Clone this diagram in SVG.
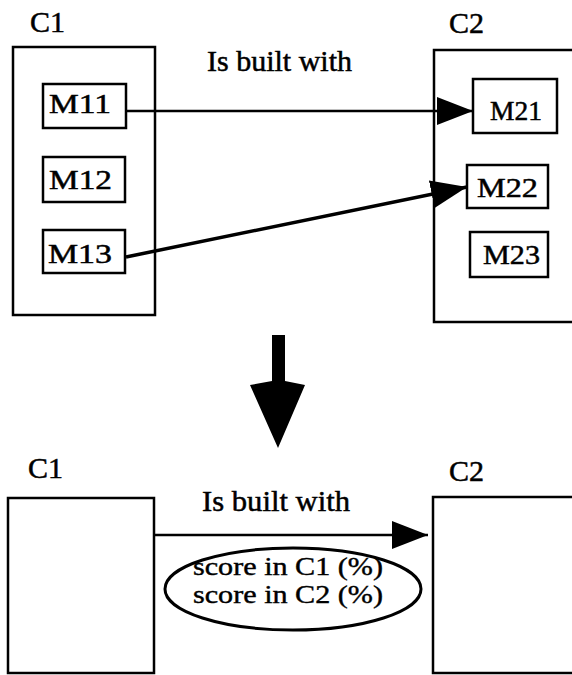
<svg xmlns="http://www.w3.org/2000/svg" width="572" height="675" viewBox="0 0 572 675">
<style>
  .box { fill: none; stroke: #000; stroke-width: 2.5; }
  .lbl { font-family: "Liberation Serif", "Times New Roman", serif; font-size: 30px; fill: #000; stroke: #000; stroke-width: 0.5; }
  .m { font-family: "Liberation Serif", "Times New Roman", serif; font-size: 28px; fill: #000; stroke: #000; stroke-width: 0.5; }
  .sc { font-family: "Liberation Serif", "Times New Roman", serif; font-size: 25px; fill: #000; stroke: #000; stroke-width: 0.4; }
  .conn { fill: none; stroke: #000; }
</style>
<defs>
  <marker id="ah" viewBox="0 0 36 28" refX="36" refY="14" markerWidth="36" markerHeight="28" markerUnits="userSpaceOnUse" orient="auto">
    <path d="M0,0 L36,14 L0,28 z" fill="#000"/>
  </marker>
</defs>
<rect width="572" height="675" fill="#fff"/>

<!-- Top section -->
<g id="top-C1">
  <text class="lbl" x="30" y="32">C1</text>
  <rect class="box" x="13" y="47" width="142" height="268"/>
</g>
<g id="M11"><rect class="box" x="43" y="84" width="83" height="44"/><text class="m" x="49" y="113" textLength="62" lengthAdjust="spacingAndGlyphs">M11</text></g>
<g id="M12"><rect class="box" x="43" y="157" width="82" height="45"/><text class="m" x="49" y="189" textLength="63" lengthAdjust="spacingAndGlyphs">M12</text></g>
<g id="M13"><rect class="box" x="43" y="230" width="82" height="43"/><text class="m" x="48" y="263" textLength="64" lengthAdjust="spacingAndGlyphs">M13</text></g>

<g id="top-C2">
  <text class="lbl" x="449" y="33">C2</text>
  <rect class="box" x="434" y="50" width="160" height="272"/>
</g>
<g id="M21"><rect class="box" x="473" y="79" width="84" height="54"/><text class="m" x="490" y="120" textLength="52" lengthAdjust="spacingAndGlyphs">M21</text></g>
<g id="M22"><rect class="box" x="467" y="165" width="81" height="43"/><text class="m" x="477" y="197" textLength="61" lengthAdjust="spacingAndGlyphs">M22</text></g>
<g id="M23"><rect class="box" x="470" y="232" width="78" height="45"/><text class="m" x="483" y="264" textLength="57" lengthAdjust="spacingAndGlyphs">M23</text></g>

<g id="top-label">
  <text class="lbl" x="207" y="71" textLength="145" lengthAdjust="spacingAndGlyphs">Is built with</text>
</g>

<!-- Bottom section -->
<g id="bottom-C1">
  <text class="lbl" x="28" y="478">C1</text>
  <rect class="box" x="8" y="498" width="146" height="175"/>
</g>
<g id="bottom-C2">
  <text class="lbl" x="449" y="481">C2</text>
  <rect class="box" x="433" y="497" width="160" height="176"/>
</g>
<g id="bottom-label">
  <text class="lbl" x="202" y="511" textLength="148" lengthAdjust="spacingAndGlyphs">Is built with</text>
</g>
<g id="score">
  <ellipse cx="293" cy="589" rx="128" ry="41" fill="none" stroke="#000" stroke-width="3"/>
  <text class="sc" x="193" y="575" textLength="190" lengthAdjust="spacingAndGlyphs">score in C1 (%)</text>
  <text class="sc" x="193" y="603" textLength="190" lengthAdjust="spacingAndGlyphs">score in C2 (%)</text>
</g>

<g id="connectors">
  <line class="conn" x1="126" y1="111" x2="473" y2="111" stroke-width="2.5" marker-end="url(#ah)"/>
  <line class="conn" x1="126" y1="257" x2="467" y2="187" stroke-width="3.5" marker-end="url(#ah)"/>
  <line class="conn" x1="155" y1="535" x2="428" y2="535" stroke-width="2.5" marker-end="url(#ah)"/>
  <polygon points="272,335 285,335 285,381 305,385 278,448 250,385 272,381" fill="#000"/>
</g>
</svg>
